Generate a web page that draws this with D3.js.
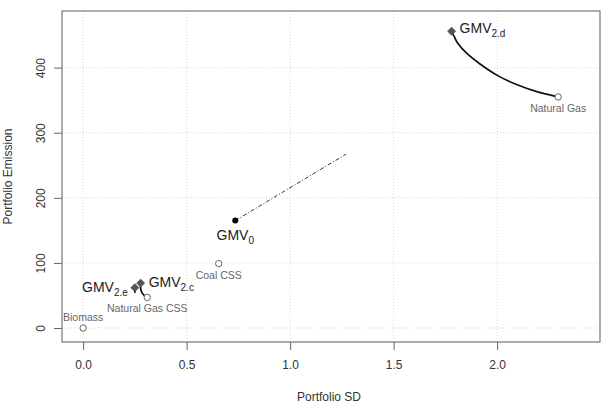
<!DOCTYPE html>
<html>
<head>
<meta charset="utf-8">
<script src="https://cdn.jsdelivr.net/npm/d3@7"></script>
<style>
  body { margin: 0; background: #fff; }
  text { font-family: "Liberation Sans", Arial, sans-serif; }
</style>
</head>
<body>
<div id="chart"></div>
<script>
// technologies (open circles)
var techNames = ["Biomass", "Natural Gas CSS", "Coal CSS", "Natural Gas"];
var techSD = [0.0, 0.31, 0.655, 2.295];
var techEm = [0, 47, 99, 355];
var techLabelPos = ["above", "below", "below", "below"];

// portfolios (GMV points)
var gmvNames = ["0", "2.c", "2.d", "2.e"];
var gmvSD = [0.735, 0.278, 1.78, 0.25];
var gmvEm = [165, 69, 456, 62];

// efficient paths from GMV portfolios toward the technologies
var path2dSD = [1.78, 1.79, 1.805, 1.85, 1.91, 2.005, 2.10, 2.195, 2.295];
var path2dEm = [456, 450, 438, 422, 407, 386, 373, 362, 355];
var path2cSD = [0.278, 0.276, 0.283, 0.297, 0.31];
var path2cEm = [69, 61, 54, 49, 47];
var path2eSD = [0.25, 0.249, 0.251];
var path2eEm = [62, 57, 54];

// dash-dot line from GMV0
var lineSD = [0.735, 1.27];
var lineEm = [165, 267];

var xTicks = [0, 0.5, 1, 1.5, 2];
var yTicks = [0, 100, 200, 300, 400];

var margin = {top: 11, right: 6, bottom: 61, left: 62},
    width = 606 - margin.left - margin.right,
    height = 403 - margin.top - margin.bottom;

var svg = d3.select("#chart")
    .append("svg")
    .attr("width", 606)
    .attr("height", 403)
    .append("g")
    .attr("transform", "translate(" + margin.left + "," + margin.top + ")");

var x = d3.scaleLinear().domain([-0.102, 2.497]).range([0, width]);
var y = d3.scaleLinear().domain([-21.5, 487]).range([height, 0]);

// grid
svg.selectAll("vgrid").data(xTicks).enter().append("line")
    .attr("x1", function (d) { return x(d); })
    .attr("x2", function (d) { return x(d); })
    .attr("y1", 0).attr("y2", height)
    .attr("stroke", "#d9d9d9").attr("stroke-dasharray", "1,2");
svg.selectAll("hgrid").data(yTicks).enter().append("line")
    .attr("y1", function (d) { return y(d); })
    .attr("y2", function (d) { return y(d); })
    .attr("x1", 0).attr("x2", width)
    .attr("stroke", "#d9d9d9").attr("stroke-dasharray", "1,2");

// axes
var xAxis = svg.append("g")
    .attr("transform", "translate(0," + height + ")")
    .call(d3.axisBottom(x).tickValues(xTicks).tickFormat(d3.format(".1f")).tickSize(8).tickPadding(10));
var yAxis = svg.append("g")
    .call(d3.axisLeft(y).tickValues(yTicks).tickSize(8).tickPadding(4));
[xAxis, yAxis].forEach(function (a) {
    a.select(".domain").remove();
    a.selectAll("line").attr("stroke", "#666");
    a.selectAll("text").attr("fill", "#333").style("font-size", "12px")
        .style("font-family", "Liberation Sans, Arial, sans-serif");
});
yAxis.selectAll("text")
    .attr("text-anchor", "middle")
    .attr("dy", null)
    .attr("transform", function () { return "translate(-17,0) rotate(-90)"; })
    .attr("x", 0).attr("y", 0);

// box
svg.append("rect")
    .attr("width", width).attr("height", height)
    .attr("fill", "none").attr("stroke", "#777").attr("stroke-width", 1.2);

// axis titles
svg.append("text")
    .attr("x", width / 2 - 2).attr("y", height + 59)
    .attr("text-anchor", "middle").attr("fill", "#333")
    .style("font-size", "12px").text("Portfolio SD");
svg.append("text")
    .attr("transform", "translate(-50," + (height / 2) + ") rotate(-90)")
    .attr("text-anchor", "middle").attr("fill", "#333")
    .style("font-size", "12px").text("Portfolio Emission");

// paths
var line = d3.line().curve(d3.curveBasis);
function drawPath(sd, em) {
    svg.append("path")
        .attr("d", line(sd.map(function (d, i) { return [x(d), y(em[i])]; })))
        .attr("fill", "none").attr("stroke", "#111").attr("stroke-width", 1.7);
}
drawPath(path2dSD, path2dEm);
drawPath(path2cSD, path2cEm);
drawPath(path2eSD, path2eEm);

svg.append("line")
    .attr("x1", x(lineSD[0])).attr("y1", y(lineEm[0]))
    .attr("x2", x(lineSD[1])).attr("y2", y(lineEm[1]))
    .attr("stroke", "#333").attr("stroke-width", 1)
    .attr("stroke-dasharray", "4,2,1,2");

// technology points
svg.selectAll("tech").data(techNames).enter().append("circle")
    .attr("cx", function (d, i) { return x(techSD[i]); })
    .attr("cy", function (d, i) { return y(techEm[i]); })
    .attr("r", 3.2)
    .attr("fill", "#fff").attr("stroke", "#666").attr("stroke-width", 1);
svg.selectAll("techlab").data(techNames).enter().append("text")
    .attr("x", function (d, i) { return x(techSD[i]); })
    .attr("y", function (d, i) { return y(techEm[i]) + (techLabelPos[i] == "above" ? -7 : 15); })
    .attr("text-anchor", "middle").attr("fill", "#666")
    .style("font-size", "10.5px")
    .text(function (d) { return d; });

// GMV points
svg.append("circle")
    .attr("cx", x(gmvSD[0])).attr("cy", y(gmvEm[0])).attr("r", 3)
    .attr("fill", "#000");
var diamond = d3.symbol().type(d3.symbolDiamond2).size(40);
svg.selectAll("gmv").data(gmvNames.slice(1)).enter().append("path")
    .attr("d", diamond)
    .attr("transform", function (d, i) {
        return "translate(" + x(gmvSD[i + 1]) + "," + y(gmvEm[i + 1]) + ")";
    })
    .attr("fill", "#555").attr("stroke", "#444").attr("stroke-width", 0.8);

function gmvLabel(name, px, py, anchor) {
    var t = svg.append("text")
        .attr("x", px).attr("y", py)
        .attr("text-anchor", anchor).attr("fill", "#222")
        .style("font-size", "14px");
    t.append("tspan").text("GMV");
    t.append("tspan").attr("dy", 4).style("font-size", "10px").text(name);
}
gmvLabel(gmvNames[0], x(gmvSD[0]), y(gmvEm[0]) + 19, "middle");
gmvLabel(gmvNames[1], x(gmvSD[1]) + 8, y(gmvEm[1]) + 4, "start");
gmvLabel(gmvNames[2], x(gmvSD[2]) + 8, y(gmvEm[2]) + 2, "start");
gmvLabel(gmvNames[3], x(gmvSD[3]) - 7, y(gmvEm[3]) + 4, "end");
</script>
</body>
</html>
